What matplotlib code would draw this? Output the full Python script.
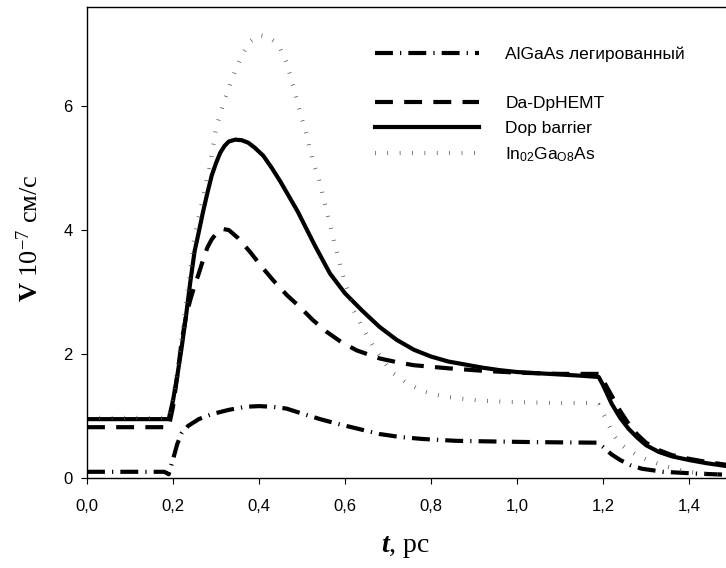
import matplotlib
matplotlib.use("Agg")
import matplotlib.pyplot as plt
from matplotlib.lines import Line2D
from matplotlib.ticker import FixedLocator, FixedFormatter

# ---------------- data ----------------
t_dop = [0.0, 0.19, 0.20, 0.21, 0.22, 0.23, 0.24, 0.25, 0.26, 0.27, 0.28, 0.29, 0.30, 0.31,
         0.32, 0.33, 0.345, 0.36, 0.375, 0.39, 0.41, 0.43, 0.45, 0.49, 0.53, 0.565, 0.60,
         0.64, 0.68, 0.72, 0.76, 0.80, 0.84, 0.88, 0.92, 0.96, 1.00, 1.05, 1.10, 1.15, 1.19,
         1.20, 1.22, 1.24, 1.26, 1.28, 1.30, 1.33, 1.36, 1.40, 1.44, 1.50]
v_dop = [0.95, 0.95, 1.25, 1.65, 2.1, 2.6, 3.15, 3.65, 3.97, 4.3, 4.6, 4.88, 5.08, 5.25,
         5.36, 5.43, 5.46, 5.45, 5.41, 5.33, 5.2, 5.0, 4.78, 4.3, 3.75, 3.3, 2.98,
         2.7, 2.44, 2.23, 2.07, 1.96, 1.88, 1.83, 1.78, 1.74, 1.71, 1.69, 1.67, 1.65, 1.63,
         1.5, 1.2, 0.97, 0.79, 0.65, 0.53, 0.42, 0.35, 0.29, 0.24, 0.18]

t_da = [0.0, 0.19, 0.20, 0.21, 0.22, 0.23, 0.24, 0.25, 0.26, 0.27, 0.28, 0.29, 0.30, 0.315,
        0.33, 0.35, 0.379, 0.405, 0.433, 0.465, 0.495, 0.525, 0.557, 0.59, 0.627, 0.68, 0.72,
        0.76, 0.84, 0.92, 1.00, 1.10, 1.19, 1.20, 1.22, 1.24, 1.26, 1.28, 1.30, 1.33, 1.36,
        1.40, 1.44, 1.50]
v_da = [0.82, 0.82, 1.15, 1.65, 2.2, 2.6, 2.87, 3.1, 3.3, 3.52, 3.72, 3.85, 3.94, 4.02,
        4.0, 3.88, 3.65, 3.42, 3.19, 2.95, 2.76, 2.55, 2.36, 2.2, 2.06, 1.93, 1.87,
        1.82, 1.77, 1.73, 1.70, 1.68, 1.68, 1.58, 1.33, 1.08, 0.87, 0.70, 0.57, 0.45, 0.37,
        0.31, 0.26, 0.20]

t_algaas = [0.0, 0.18, 0.19, 0.20, 0.21, 0.22, 0.235, 0.26, 0.29, 0.33, 0.37, 0.40, 0.43,
            0.464, 0.50, 0.542, 0.585, 0.627, 0.68, 0.73, 0.78, 0.857, 0.94, 1.03, 1.10,
            1.185, 1.20, 1.22, 1.24, 1.263, 1.29, 1.34, 1.42, 1.50]
v_algaas = [0.1, 0.1, 0.06, 0.3, 0.55, 0.72, 0.84, 0.95, 1.03, 1.1, 1.15, 1.16, 1.15,
            1.12, 1.04, 0.95, 0.87, 0.8, 0.71, 0.66, 0.63, 0.6, 0.59, 0.58, 0.575,
            0.57, 0.5, 0.38, 0.29, 0.21, 0.15, 0.1, 0.07, 0.05]

t_ingaas = [0.0, 0.19, 0.20, 0.21, 0.22, 0.23, 0.24, 0.25, 0.267, 0.286, 0.30, 0.317, 0.333,
            0.348, 0.365, 0.38, 0.40, 0.42, 0.435, 0.449, 0.464, 0.48, 0.495, 0.51, 0.526,
            0.54, 0.557, 0.577, 0.592, 0.62, 0.643, 0.666, 0.69, 0.712, 0.74, 0.774, 0.80,
            0.836, 0.87, 0.914, 0.97, 1.03, 1.10, 1.178, 1.19, 1.208, 1.224, 1.24, 1.255,
            1.286, 1.315, 1.34, 1.37, 1.40, 1.44, 1.50]
v_ingaas = [0.97, 0.97, 1.3, 1.75, 2.25, 2.8, 3.35, 3.9, 4.43, 5.05, 5.64, 6.04, 6.35,
            6.63, 6.88, 7.05, 7.15, 7.12, 7.05, 6.93, 6.71, 6.31, 5.91, 5.55, 5.1,
            4.8, 4.32, 3.75, 3.35, 2.71, 2.4, 2.12, 1.88, 1.69, 1.55, 1.42, 1.36,
            1.31, 1.28, 1.25, 1.23, 1.22, 1.21, 1.21, 1.18, 0.94, 0.70, 0.55, 0.47,
            0.34, 0.26, 0.20, 0.14, 0.10, 0.07, 0.05]

labels = ["AlGaAs легированный", "Da-DpHEMT", "Dop barrier",
          r"In$_{\mathregular{02}}$Ga$_{\mathregular{O8}}$As"]

x_ticks = [0.0, 0.2, 0.4, 0.6, 0.8, 1.0, 1.2, 1.4]
x_ticklabels = ["0,0", "0,2", "0,4", "0,6", "0,8", "1,0", "1,2", "1,4"]
y_ticks = [0, 2, 4, 6]
y_ticklabels = ["0", "2", "4", "6"]

# ---------------- style ----------------
plt.rcParams["font.family"] = ["Liberation Sans", "DejaVu Sans"]
plt.rcParams["mathtext.fontset"] = "custom"
plt.rcParams["mathtext.rm"] = "Liberation Serif"
plt.rcParams["mathtext.it"] = "Liberation Serif:italic"
plt.rcParams["mathtext.bf"] = "Liberation Serif:bold"
try:
    plt.rcParams["mathtext.bfit"] = "Liberation Serif:italic:bold"
    bfit = True
except KeyError:
    bfit = False

fig = plt.figure(figsize=(7.26, 5.68), dpi=100)
ax = fig.add_axes([87 / 726, 90 / 568, 645 / 726, 471 / 568])

lw = 3.0
l_alg, = ax.plot(t_algaas, v_algaas, color="black", lw=lw,
                 dashes=(4.3, 1.7, 0.3, 1.7), dash_capstyle="butt")
l_da, = ax.plot(t_da, v_da, color="black", lw=lw, dashes=(4.3, 2.7), dash_capstyle="butt")
l_dop, = ax.plot(t_dop, v_dop, color="black", lw=lw, solid_joinstyle="round")
# In0.2Ga0.8As: tiny perpendicular ticks (very short dashes of a wide grey line)
l_in, = ax.plot(t_ingaas, v_ingaas, color="0.3", lw=3.0, dashes=(0.17, 2.8),
                dash_capstyle="butt")

ax.set_xlim(0, 1.5)
ax.set_ylim(0, 7.6)
ax.xaxis.set_major_locator(FixedLocator(x_ticks))
ax.xaxis.set_major_formatter(FixedFormatter(x_ticklabels))
ax.yaxis.set_major_locator(FixedLocator(y_ticks))
ax.yaxis.set_major_formatter(FixedFormatter(y_ticklabels))
ax.tick_params(direction="out", length=4.3, width=0.8, labelsize=12, color="black")
ax.tick_params(axis="x", pad=11)
ax.tick_params(axis="y", pad=6)
for s in ax.spines.values():
    s.set_linewidth(1.0)

xlab = r"$\mathbfit{t}$, pc" if bfit else r"$\mathbf{t}$, pc"
ylab = r"$\mathbf{V}$ 10$^{-7}$ см/с"
ax.set_ylabel(ylab, family=["Liberation Serif", "DejaVu Serif"], fontsize=19)
ax.set_xlabel(xlab, family=["Liberation Serif", "DejaVu Serif"], fontsize=20)
ax.yaxis.set_label_coords(-0.068, 0.51)
ax.xaxis.set_label_coords(0.493, -0.118)
ax.xaxis.label.set_va("top")

blank = Line2D([], [], linestyle="none")
ax.legend([l_alg, blank, l_da, l_dop, l_in],
          [labels[0], "", labels[1], labels[2], labels[3]],
          loc="upper left", bbox_to_anchor=(0.4465, 0.917), frameon=False,
          fontsize=12.5, handlelength=6.0, handletextpad=1.5, labelspacing=0.55,
          borderpad=0, borderaxespad=0)

fig.savefig("out.png", dpi=100)
